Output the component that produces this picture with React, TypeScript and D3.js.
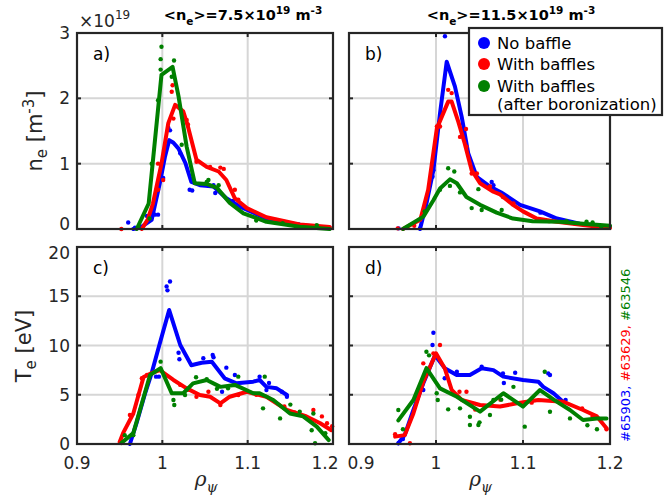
import React from "react";
import * as d3 from "d3";

type P = [number, number];

// ---------- Data (ne in 1e19 m^-3, Te in eV, x = rho_psi) ----------
const xTicks = [0.9, 1, 1.1, 1.2];
const neTicks = [0, 1, 2, 3];
const teTicks = [0, 5, 10, 15, 20];
const seriesNames = ["No baffle", "With baffles", "With baffles", "(after boronization)"];
const shotLabels = ["#65903, ", "#63629, ", "#63546"];
const titles = ["7.5", "11.5"];

// Panel a: ne, <ne>=7.5
const aBlueLine: P[] = [[0.966,0],[0.975,0.03],[0.9875,0.14],[0.997,0.70],[1.003,1.10],[1.008,1.36],[1.013,1.32],[1.019,1.23],[1.027,1.01],[1.034,0.72],[1.044,0.67],[1.060,0.65],[1.075,0.47],[1.091,0.34],[1.122,0.16],[1.161,0.06],[1.196,0.02]];
const aRedLine: P[] = [[0.976,0],[0.983,0.15],[0.989,0.39],[0.999,1.0],[1.007,1.62],[1.015,1.90],[1.0245,1.80],[1.030,1.57],[1.040,1.06],[1.052,0.95],[1.066,0.88],[1.075,0.75],[1.085,0.47],[1.099,0.32],[1.122,0.18],[1.161,0.07],[1.196,0.03]];
const aGreenLine: P[] = [[0.970,0],[0.984,0.39],[0.999,2.36],[1.012,2.48],[1.019,2.03],[1.0285,1.26],[1.038,0.70],[1.052,0.69],[1.064,0.63],[1.079,0.40],[1.095,0.24],[1.122,0.11],[1.161,0.035],[1.196,0]];
const aBluePts: P[] = [[0.960,0.10],[0.968,0.02],[0.982,0.20],[0.9914,0.22],[0.995,0.22],[1.001,0.78],[1.007,1.55],[1.009,1.51],[1.021,1.16],[1.032,0.60],[1.035,0.59],[1.060,0.67],[1.062,0.55],[1.083,0.43],[1.12,0.17],[1.16,0.07],[1.19,0.02]];
const aRedPts: P[] = [[0.952,0],[0.995,1.0],[0.995,0.60],[1.001,0.75],[1.011,2.10],[1.012,2.20],[1.013,1.69],[1.0285,1.67],[1.030,1.60],[1.040,1.03],[1.056,0.95],[1.068,0.94],[1.072,0.92],[1.085,0.60],[1.089,0.45],[1.14,0.10],[1.196,0.02]];
const aGreenPts: P[] = [[0.972,0.02],[0.985,0.16],[0.9875,1.0],[0.995,1.97],[0.998,2.60],[0.998,2.44],[0.999,2.79],[1.011,2.33],[1.0137,2.58],[1.0227,1.29],[1.052,0.72],[1.054,0.75],[1.066,0.67],[1.11,0.13],[1.141,0.09],[1.181,0.06]];

// Panel b: ne, <ne>=11.5
const bBlueLine: P[] = [[0.9816,0],[0.989,0.39],[0.997,0.90],[1.0046,1.77],[1.0123,2.56],[1.0218,2.18],[1.0295,1.72],[1.037,1.16],[1.0468,0.80],[1.062,0.65],[1.075,0.56],[1.0966,0.37],[1.1195,0.27],[1.139,0.16],[1.165,0.08],[1.2,0.03]];
const bRedLine: P[] = [[0.962,0],[0.982,0.14],[0.991,0.60],[1.001,1.54],[1.014,1.95],[1.018,1.95],[1.0257,1.64],[1.033,1.31],[1.041,0.90],[1.0506,0.70],[1.066,0.57],[1.0736,0.53],[1.0885,0.37],[1.100,0.27],[1.1157,0.16],[1.139,0.11],[1.169,0.06],[1.2,0.015]];
const bGreenLine: P[] = [[0.962,0],[0.9855,0.19],[0.997,0.44],[1.0046,0.62],[1.016,0.76],[1.024,0.70],[1.035,0.49],[1.0506,0.37],[1.0697,0.25],[1.0885,0.16],[1.111,0.12],[1.1425,0.11],[1.169,0.08],[1.2,0.05]];
const bBluePts: P[] = [[0.957,0.01],[0.9816,0.01],[0.996,0.8],[0.997,0.9],[1.0103,2.95],[1.064,0.72],[1.066,0.67],[1.08,0.5],[1.12,0.25],[1.16,0.08]];
const bRedPts: P[] = [[0.956,0.01],[0.975,0.05],[1.001,1.57],[1.0046,1.57],[1.014,2.13],[1.018,2.08],[1.0276,1.41],[1.0345,1.53],[1.035,1.26],[1.041,0.85],[1.047,0.85],[1.062,0.65],[1.077,0.49],[1.089,0.39],[1.13,0.12],[1.18,0.04]];
const bGreenPts: P[] = [[0.987,0.27],[1.0046,0.6],[1.014,0.93],[1.016,0.66],[1.021,0.88],[1.0276,0.56],[1.041,0.32],[1.0487,0.61],[1.0525,0.29],[1.0755,0.29],[1.15,0.12],[1.173,0.11],[1.18,0.10],[1.19,0.03]];

// Panel c: Te, <ne>=7.5
const cBlueLine: P[] = [[0.962,0],[0.970,2.2],[0.980,5.2],[0.9875,7.2],[0.997,10.2],[1.008,13.6],[1.021,10.05],[1.034,8.0],[1.046,8.25],[1.058,8.35],[1.073,6.67],[1.087,6.16],[1.1066,6.33],[1.114,6.5],[1.122,5.8],[1.134,5.65],[1.146,4.97]];
const cRedLine: P[] = [[0.950,0.2],[0.954,1.1],[0.966,3.1],[0.978,6.8],[0.9875,7.2],[0.997,7.5],[1.013,6.5],[1.0285,5.65],[1.044,4.97],[1.056,4.8],[1.068,4.13],[1.079,4.8],[1.099,5.3],[1.122,4.8],[1.146,3.45],[1.169,2.8],[1.185,2.1],[1.198,1.4]];
const cGreenLine: P[] = [[0.952,0.1],[0.966,1.1],[0.9856,7.0],[0.998,7.7],[1.011,5.15],[1.0245,5.15],[1.036,6.15],[1.052,6.5],[1.068,5.8],[1.085,6.0],[1.1066,5.15],[1.114,5.15],[1.130,4.47],[1.1496,3.1],[1.165,2.8],[1.181,1.76],[1.195,0.4]];
const cBluePts: P[] = [[0.9926,6.84],[0.996,6.84],[1.005,16.0],[1.006,15.6],[1.009,16.5],[1.019,9.27],[1.020,8.6],[1.048,8.7],[1.059,9.04],[1.060,8.8],[1.07,5.3],[1.075,7.75],[1.085,7.0],[1.114,6.84],[1.122,5.48],[1.125,6.2],[1.14,5.3],[1.146,4.8]];
const cRedPts: P[] = [[0.962,2.94],[0.972,4.97],[0.976,6.67],[0.982,7.0],[1.021,6.0],[1.03,5.5],[1.040,4.8],[1.054,5.3],[1.068,3.96],[1.089,4.97],[1.11,5.0],[1.143,3.8],[1.155,3.2],[1.177,3.45],[1.187,2.8],[1.193,2.1],[1.199,1.8]];
const cGreenPts: P[] = [[0.956,0.9],[0.966,0.9],[0.998,8.36],[1.013,4.47],[1.014,3.96],[1.0266,4.97],[1.0395,6.77],[1.052,6.57],[1.064,5.6],[1.077,5.65],[1.089,6.84],[1.118,3.62],[1.120,6.84],[1.138,2.6],[1.150,4.0],[1.161,3.28],[1.175,1.4],[1.177,3.1],[1.179,0.07],[1.191,1.1]];

// Panel d: Te, <ne>=11.5
const dBlueLine: P[] = [[0.9567,0.07],[0.964,0.9],[0.974,3.45],[0.9854,6.16],[0.9989,9.0],[1.010,7.7],[1.0238,7.0],[1.039,7.0],[1.0525,7.7],[1.066,7.5],[1.0774,6.84],[1.100,6.5],[1.1176,6.33],[1.1233,5.8],[1.135,5.15],[1.146,4.3]];
const dRedLine: P[] = [[0.953,0.75],[0.964,0.9],[0.974,3.1],[0.9854,6.3],[1.0,9.2],[1.010,7.7],[1.018,5.5],[1.0295,4.47],[1.0506,3.96],[1.0736,3.8],[1.093,4.13],[1.1176,4.47],[1.146,4.3],[1.169,3.45],[1.185,2.8],[1.196,1.6]];
const dGreenLine: P[] = [[0.9567,2.4],[0.974,4.47],[0.989,7.7],[1.0046,5.65],[1.024,4.8],[1.0506,3.28],[1.0774,5.15],[1.100,3.8],[1.1195,5.48],[1.1387,4.3],[1.154,3.45],[1.169,2.44],[1.185,2.6],[1.196,2.6]];
const dBluePts: P[] = [[0.957,0.1],[0.962,0.5],[0.9854,5.48],[0.996,10.05],[0.997,11.3],[1.010,6.67],[1.024,7.34],[1.0525,7.85],[1.077,7.17],[1.078,6.2],[1.091,7.24],[1.129,7.17],[1.131,7.0],[1.149,4.47]];
const dRedPts: P[] = [[0.953,1.0],[0.970,0.07],[0.9854,8.19],[0.997,9.2],[1.0046,10.05],[1.027,5.3],[1.035,5.3],[1.045,3.5],[1.074,4.5],[1.11,4.2],[1.168,3.6],[1.18,2.8],[1.196,1.5]];
const dGreenPts: P[] = [[0.9567,3.45],[0.962,1.5],[0.989,9.37],[0.992,9.0],[1.0008,5.15],[1.002,4.47],[1.014,3.52],[1.0276,3.62],[1.039,2.77],[1.039,1.93],[1.0487,1.93],[1.05,2.2],[1.062,2.94],[1.066,4.47],[1.075,4.5],[1.089,5.8],[1.102,1.76],[1.125,7.34],[1.131,3.28],[1.154,2.6],[1.174,1.9],[1.185,1.5]];

// ---------- Styling ----------
const COLORS = ["#0000ff", "#ff0000", "#008000"];
const AX = "#262626";
const FONT = "DejaVu Sans, Liberation Sans, sans-serif";

interface PanelDef {
  label: string;
  box: { x0: number; x1: number; y0: number; y1: number };
  yDomain: [number, number];
  yTicks: number[];
  showYLabels: boolean;
  showXLabels: boolean;
  xLabelNudge: number[];
  yLabelNudge: number[];
  lines: P[][];
  pts: P[][];
}

const panels: PanelDef[] = [
  { label: "a)", box: { x0: 77, x1: 333, y0: 33, y1: 229 }, yDomain: [0, 3], yTicks: neTicks, showYLabels: true, showXLabels: false, xLabelNudge: [0, 0, 0, 0], yLabelNudge: [-5, 0, 0, 0], lines: [aBlueLine, aRedLine, aGreenLine], pts: [aBluePts, aRedPts, aGreenPts] },
  { label: "b)", box: { x0: 349, x1: 610, y0: 33, y1: 229 }, yDomain: [0, 3], yTicks: neTicks, showYLabels: false, showXLabels: false, xLabelNudge: [0, 0, 0, 0], yLabelNudge: [0, 0, 0, 0], lines: [bBlueLine, bRedLine, bGreenLine], pts: [bBluePts, bRedPts, bGreenPts] },
  { label: "c)", box: { x0: 77, x1: 333, y0: 247, y1: 444 }, yDomain: [0, 20], yTicks: teTicks, showYLabels: true, showXLabels: true, xLabelNudge: [0, 0, 0, -8], yLabelNudge: [0, 0, 0, 0, 6], lines: [cBlueLine, cRedLine, cGreenLine], pts: [cBluePts, cRedPts, cGreenPts] },
  { label: "d)", box: { x0: 349, x1: 610, y0: 247, y1: 444 }, yDomain: [0, 20], yTicks: teTicks, showYLabels: false, showXLabels: true, xLabelNudge: [12, 0, 0, 0], yLabelNudge: [0, 0, 0, 0, 0], lines: [dBlueLine, dRedLine, dGreenLine], pts: [dBluePts, dRedPts, dGreenPts] },
];

function Panel({ p, idx }: { p: PanelDef; idx: number }) {
  const { x0, x1, y0, y1 } = p.box;
  const x = d3.scaleLinear().domain([0.9, 1.2]).range([x0, x1]);
  const y = d3.scaleLinear().domain(p.yDomain).range([y1, y0]);
  const line = d3.line<P>().x(d => x(d[0])).y(d => y(d[1])).curve(d3.curveLinear);
  const clipId = `clip${idx}`;
  return (
    <g>
      <defs>
        <clipPath id={clipId}>
          <rect x={x0 - 3} y={y0 - 3} width={x1 - x0 + 6} height={y1 - y0 + 6} />
        </clipPath>
      </defs>
      {/* grid */}
      {xTicks.slice(1, -1).map(t => (
        <line key={"gx" + t} x1={x(t)} x2={x(t)} y1={y0} y2={y1} stroke="#d6d6d6" strokeWidth={2} />
      ))}
      {p.yTicks.slice(1, -1).map(t => (
        <line key={"gy" + t} x1={x0} x2={x1} y1={y(t)} y2={y(t)} stroke="#d6d6d6" strokeWidth={2} />
      ))}
      {/* data */}
      <g clipPath={`url(#${clipId})`}>
        {p.lines.map((ln, si) => (
          <g key={"s" + si}>
            {p.pts[si].map((d, k) => (
              <circle key={k} cx={x(d[0])} cy={y(d[1])} r={2.2} fill={COLORS[si]} />
            ))}
            <path d={line(ln) || ""} fill="none" stroke={COLORS[si]} strokeWidth={4} strokeLinejoin="round" strokeLinecap="round" />
          </g>
        ))}
      </g>
      {/* ticks */}
      {xTicks.slice(1, -1).map(t => (
        <g key={"tx" + t}>
          <line x1={x(t)} x2={x(t)} y1={y1} y2={y1 - 4} stroke={AX} strokeWidth={2} />
          <line x1={x(t)} x2={x(t)} y1={y0} y2={y0 + 4} stroke={AX} strokeWidth={2} />
        </g>
      ))}
      {p.yTicks.slice(1, -1).map(t => (
        <g key={"ty" + t}>
          <line x1={x0} x2={x0 + 4} y1={y(t)} y2={y(t)} stroke={AX} strokeWidth={2} />
          <line x1={x1} x2={x1 - 4} y1={y(t)} y2={y(t)} stroke={AX} strokeWidth={2} />
        </g>
      ))}
      <rect x={x0} y={y0} width={x1 - x0} height={y1 - y0} fill="none" stroke={AX} strokeWidth={2.2} />
      {/* tick labels */}
      {p.showYLabels && p.yTicks.map((t, i) => (
        <text key={"ly" + t} x={x0 - 7} y={y(t) + p.yLabelNudge[i]} dy="0.36em" textAnchor="end" fontSize={17} fill={AX} fontFamily={FONT}>{t}</text>
      ))}
      {p.showXLabels && xTicks.map((t, i) => (
        <text key={"lx" + t} x={x(t) + p.xLabelNudge[i]} y={y1 + 25} textAnchor="middle" fontSize={17} fill={AX} fontFamily={FONT}>{t}</text>
      ))}
      <text x={x0 + 16} y={y0 + 27} fontSize={17} fill="#000" fontFamily={FONT}>{p.label}</text>
      {p.showXLabels && (
        <text x={(x0 + x1) / 2 + 1} y={y1 + 42} textAnchor="middle" fontFamily="DejaVu Serif, serif" fontStyle="italic" fill={AX}>
          <tspan fontSize={20}>ρ</tspan>
          <tspan fontSize={14} dy={6}>ψ</tspan>
        </text>
      )}
    </g>
  );
}

function Title({ cx, value }: { cx: number; value: string }) {
  return (
    <text x={cx} y={20} textAnchor="middle" fontSize={14.5} fontWeight="bold" fill="#000" fontFamily={FONT}>
      <tspan>{"<n"}</tspan>
      <tspan fontSize={10.5} dy={5}>e</tspan>
      <tspan dy={-5}>{">=" + value + "×10"}</tspan>
      <tspan fontSize={10.5} dy={-6}>19</tspan>
      <tspan dy={6}>{" m"}</tspan>
      <tspan fontSize={10.5} dy={-6}>-3</tspan>
    </text>
  );
}

export default function App() {
  const legendRows = [43, 64, 86, 104];
  return (
    <svg width={664} height={496} style={{ position: "absolute", left: 0, top: 0, background: "#fff" }}>
      <rect width={664} height={496} fill="#fff" />
      {panels.map((p, i) => <Panel key={i} p={p} idx={i} />)}

      {/* exponent */}
      <text x={79} y={27} fontSize={17} fill={AX} fontFamily={FONT}>
        <tspan>×10</tspan>
        <tspan fontSize={12} dy={-8}>19</tspan>
      </text>

      <Title cx={243} value={titles[0]} />
      <Title cx={511} value={titles[1]} />

      {/* y labels */}
      <text transform="translate(42,131) rotate(-90)" textAnchor="middle" fontSize={21} fill={AX} fontFamily={FONT}>
        <tspan>n</tspan>
        <tspan fontSize={15} dy={5}>e</tspan>
        <tspan dy={-5}>{" [m"}</tspan>
        <tspan fontSize={15} dy={-8}>-3</tspan>
        <tspan dy={8}>]</tspan>
      </text>
      <text transform="translate(31,346) rotate(-90)" textAnchor="middle" fontSize={21} fill={AX} fontFamily={FONT}>
        <tspan>T</tspan>
        <tspan fontSize={15} dy={5}>e</tspan>
        <tspan dy={-5}>{" [eV]"}</tspan>
      </text>

      {/* legend */}
      <rect x={469} y={28} width={193} height={87} fill="#fff" stroke={AX} strokeWidth={2.2} />
      {[0, 1, 2].map(i => (
        <circle key={"lm" + i} cx={484} cy={legendRows[i]} r={6} fill={COLORS[i]} />
      ))}
      {seriesNames.map((s, i) => (
        <text key={"lt" + i} x={497} y={legendRows[i] + 6} fontSize={16.5} fill="#000" fontFamily={FONT}>{s}</text>
      ))}

      {/* shot numbers */}
      <text transform="translate(630,442) rotate(-90)" fontSize={13} fontFamily={FONT}>
        {shotLabels.map((s, i) => (
          <tspan key={i} fill={COLORS[i]}>{s}</tspan>
        ))}
      </text>
    </svg>
  );
}
